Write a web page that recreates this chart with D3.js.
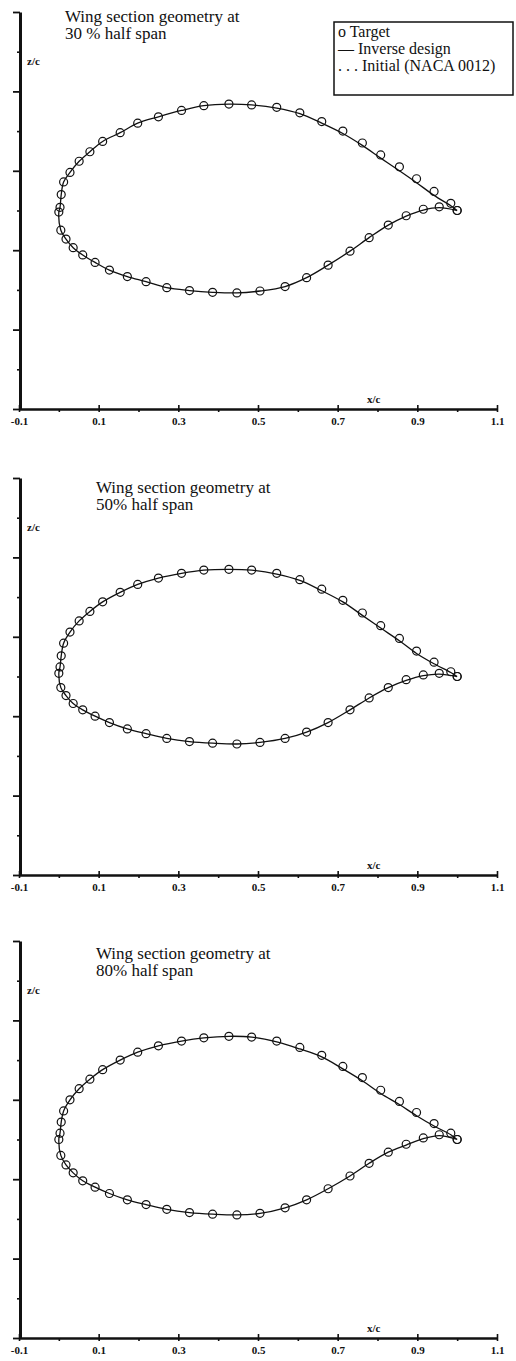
<!DOCTYPE html>
<html>
<head>
<meta charset="utf-8">
<script src="https://cdn.jsdelivr.net/npm/d3@7"></script>
<style>
  body { margin: 0; background: #fff; }
  svg { display: block; }
</style>
</head>
<body>
<div id="chart"></div>
<script>
// x/c stations of the target points (upper surface LE -> TE, lower surface LE -> TE)
const xUpper = [0, 0.003, 0.006, 0.012, 0.028, 0.051, 0.078, 0.110, 0.154, 0.198, 0.250, 0.308, 0.364, 0.427, 0.484, 0.547, 0.605, 0.660, 0.713, 0.762, 0.808, 0.855, 0.898, 0.942, 0.984, 1.0]
const xLower = [0.005, 0.018, 0.036, 0.060, 0.091, 0.127, 0.172, 0.219, 0.271, 0.328, 0.386, 0.447, 0.505, 0.568, 0.622, 0.676, 0.731, 0.779, 0.827, 0.872, 0.915, 0.955, 1.0]

// 30 % half span
const zUpper30 = [-0.001, 0.002, 0.010, 0.018, 0.024, 0.031, 0.037, 0.0435, 0.049, 0.055, 0.059, 0.063, 0.066, 0.067, 0.0665, 0.065, 0.0615, 0.056, 0.050, 0.0425, 0.035, 0.0275, 0.020, 0.012, 0.0045, 0.0]
const zLower30 = [-0.0124, -0.018, -0.0234, -0.028, -0.0327, -0.0375, -0.0416, -0.0448, -0.0486, -0.0504, -0.0515, -0.0519, -0.0507, -0.0479, -0.0423, -0.0344, -0.0256, -0.0171, -0.0092, -0.0033, 0.0008, 0.0023, 0.0]
const zUpperDesign30 = [-0.001, 0.002, 0.010, 0.018, 0.024, 0.031, 0.037, 0.0435, 0.049, 0.055, 0.059, 0.063, 0.066, 0.067, 0.0665, 0.0645, 0.061, 0.055, 0.0485, 0.041, 0.033, 0.025, 0.0175, 0.0095, 0.003, 0.0]
const zLowerDesign30 = [-0.0124, -0.018, -0.0234, -0.028, -0.0327, -0.0375, -0.0416, -0.0448, -0.0486, -0.0504, -0.0515, -0.0519, -0.0507, -0.0479, -0.0423, -0.0344, -0.0256, -0.0171, -0.0092, -0.0035, 0.0003, 0.0018, 0.0]

// 50 % half span
const zUpper50 = [0.002, 0.006, 0.013, 0.021, 0.028, 0.035, 0.041, 0.047, 0.053, 0.058, 0.062, 0.065, 0.067, 0.0675, 0.067, 0.065, 0.061, 0.055, 0.048, 0.040, 0.032, 0.024, 0.016, 0.009, 0.003, 0.0]
const zLower50 = [-0.007, -0.012, -0.017, -0.021, -0.025, -0.029, -0.033, -0.036, -0.039, -0.041, -0.042, -0.0425, -0.0415, -0.039, -0.035, -0.029, -0.021, -0.0135, -0.007, -0.002, 0.001, 0.002, 0.0]
const zUpperDesign50 = [0.002, 0.006, 0.013, 0.021, 0.028, 0.035, 0.041, 0.047, 0.053, 0.058, 0.062, 0.065, 0.067, 0.0675, 0.067, 0.0645, 0.0605, 0.054, 0.047, 0.0385, 0.0305, 0.0225, 0.0145, 0.008, 0.0025, 0.0]
const zLowerDesign50 = [-0.007, -0.012, -0.017, -0.021, -0.025, -0.029, -0.033, -0.036, -0.039, -0.041, -0.042, -0.0425, -0.0415, -0.039, -0.035, -0.029, -0.021, -0.0135, -0.007, -0.0025, 0.0005, 0.0015, 0.0]

// 80 % half span
const zUpper80 = [0.0, 0.004, 0.011, 0.018, 0.025, 0.032, 0.038, 0.044, 0.050, 0.055, 0.059, 0.062, 0.064, 0.065, 0.0645, 0.062, 0.058, 0.053, 0.046, 0.039, 0.031, 0.024, 0.017, 0.010, 0.004, 0.0]
const zLower80 = [-0.010, -0.016, -0.021, -0.026, -0.030, -0.034, -0.038, -0.041, -0.044, -0.046, -0.047, -0.0475, -0.0465, -0.043, -0.038, -0.031, -0.023, -0.015, -0.008, -0.003, 0.001, 0.003, 0.0]
const zUpperDesign80 = [0.0, 0.004, 0.011, 0.018, 0.025, 0.032, 0.038, 0.044, 0.050, 0.055, 0.059, 0.062, 0.064, 0.065, 0.0645, 0.0615, 0.057, 0.052, 0.0445, 0.037, 0.029, 0.022, 0.015, 0.0085, 0.003, 0.0]
const zLowerDesign80 = [-0.010, -0.016, -0.021, -0.026, -0.030, -0.034, -0.038, -0.041, -0.044, -0.046, -0.047, -0.0475, -0.0465, -0.043, -0.038, -0.031, -0.023, -0.015, -0.008, -0.0035, 0.0005, 0.0025, 0.0]

const titles = [
    ["Wing section geometry at", "30 % half span"],
    ["Wing section geometry at", "50% half span"],
    ["Wing section geometry at", "80% half span"]
]
const xTickLabels = [-0.1, 0.1, 0.3, 0.5, 0.7, 0.9, 1.1]
const xTickMinor = [0, 0.2, 0.4, 0.6, 0.8, 1.0]
const zTickMajor = [-0.125, -0.075, -0.025, 0.025, 0.075, 0.125]
const zTickMinor = [-0.1, -0.05, 0, 0.05, 0.1]
const legendLabels = ["o Target", "\u2014 Inverse design", ". . . Initial (NACA 0012)"]

const panels = [
    { top: 12, titleX: 65, titleY: 22, upper: zUpper30, lower: zLower30, dUpper: zUpperDesign30, dLower: zLowerDesign30, legend: true },
    { top: 478, titleX: 96, titleY: 493, upper: zUpper50, lower: zLower50, dUpper: zUpperDesign50, dLower: zLowerDesign50 },
    { top: 941, titleX: 96, titleY: 959, upper: zUpper80, lower: zLower80, dUpper: zUpperDesign80, dLower: zLowerDesign80 }
]

const panelHeight = 397
const ink = "#111"

const svg = d3.select("#chart")
    .append("svg")
    .attr("width", 516)
    .attr("height", 1361)

panels.forEach(function (p, i) {
    const bottom = p.top + panelHeight
    const x = d3.scaleLinear().domain([-0.1, 1.1]).range([19, 497])
    const y = d3.scaleLinear().domain([-0.125, 0.125]).range([bottom, p.top])
    const g = svg.append("g").attr("class", "panel")

    // x axis: labelled ticks cross the line, minor ticks point down
    const xAxis = g.append("g")
        .attr("transform", "translate(0," + bottom + ")")
        .call(d3.axisBottom(x).tickValues(xTickLabels).tickSizeInner(3).tickSizeOuter(0).tickPadding(5)
            .tickFormat(d => d.toFixed(1)))
    xAxis.select(".domain").attr("stroke", ink).attr("stroke-width", 2.5)
    xAxis.selectAll(".tick line").attr("y1", -4).attr("stroke", ink).attr("stroke-width", 1.6)
    xAxis.selectAll(".tick text")
        .attr("fill", ink)
        .style("font-family", "'Liberation Serif', serif")
        .style("font-weight", "bold")
        .style("font-size", "11px")

    g.append("g")
        .attr("transform", "translate(0," + bottom + ")")
        .call(d3.axisBottom(x).tickValues(xTickMinor).tickSize(3).tickFormat(""))
        .call(a => a.select(".domain").remove())
        .selectAll(".tick line").attr("stroke", ink).attr("stroke-width", 1.6)

    // z axis, no labels
    const yAxis = g.append("g")
        .attr("transform", "translate(20,0)")
        .call(d3.axisLeft(y).tickValues(zTickMajor).tickSizeInner(7).tickSizeOuter(0).tickFormat(""))
    yAxis.select(".domain").attr("stroke", ink).attr("stroke-width", 3)
    yAxis.selectAll(".tick line").attr("stroke", ink).attr("stroke-width", 1.8)

    g.append("g")
        .attr("transform", "translate(20,0)")
        .call(d3.axisLeft(y).tickValues(zTickMinor).tickSize(3).tickFormat(""))
        .call(a => a.select(".domain").remove())
        .selectAll(".tick line").attr("stroke", ink).attr("stroke-width", 1.6)

    g.append("text")
        .attr("x", 27)
        .attr("y", p.top + 53)
        .attr("fill", ink)
        .style("font-family", "'Liberation Serif', serif")
        .style("font-weight", "bold")
        .style("font-size", "11px")
        .text("z/c")

    g.append("text")
        .attr("x", 367)
        .attr("y", bottom - 6)
        .attr("fill", ink)
        .style("font-family", "'Liberation Serif', serif")
        .style("font-weight", "bold")
        .style("font-size", "11px")
        .text("x/c")

    g.append("text")
        .attr("x", p.titleX)
        .attr("y", p.titleY)
        .attr("fill", ink)
        .style("font-family", "'Liberation Serif', serif")
        .style("font-size", "17px")
        .selectAll("tspan")
        .data(titles[i])
        .join("tspan")
        .attr("x", p.titleX)
        .attr("dy", (d, k) => k == 0 ? 0 : 17)
        .text(d => d)

    // inverse design: upper surface TE -> LE, then lower surface LE -> TE
    const upperPts = xUpper.map((xv, k) => [xv, p.dUpper[k]]).reverse()
    const lowerPts = xLower.map((xv, k) => [xv, p.dLower[k]])
    const line = d3.line()
        .x(d => x(d[0]))
        .y(d => y(d[1]))
        .curve(d3.curveCatmullRom.alpha(0.5))

    g.append("path")
        .datum(upperPts.concat(lowerPts))
        .attr("fill", "none")
        .attr("stroke", ink)
        .attr("stroke-width", 1.3)
        .attr("d", line)

    const targets = xUpper.map((xv, k) => [xv, p.upper[k]])
        .concat(xLower.map((xv, k) => [xv, p.lower[k]]))

    g.selectAll("circle.target")
        .data(targets)
        .join("circle")
        .attr("class", "target")
        .attr("cx", d => x(d[0]))
        .attr("cy", d => y(d[1]))
        .attr("r", 4)
        .attr("fill", "none")
        .attr("stroke", ink)
        .attr("stroke-width", 1.2)

    if (p.legend) {
        const leg = g.append("g").attr("class", "legend")
        leg.append("rect")
            .attr("x", 334)
            .attr("y", 22)
            .attr("width", 179)
            .attr("height", 73)
            .attr("fill", "#fff")
            .attr("stroke", ink)
            .attr("stroke-width", 1.5)
        leg.selectAll("text")
            .data(legendLabels)
            .join("text")
            .attr("x", 338)
            .attr("y", (d, k) => 37 + k * 17)
            .attr("fill", ink)
            .style("font-family", "'Liberation Serif', serif")
            .style("font-size", "16px")
            .text(d => d)
    }
})
</script>
</body>
</html>
